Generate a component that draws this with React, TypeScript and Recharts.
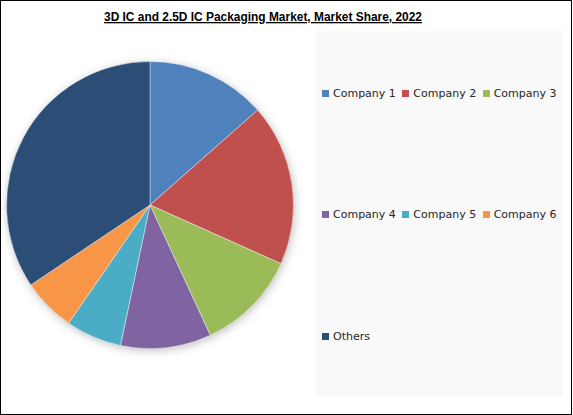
import React from 'react';
import { PieChart, Pie, Cell, Legend } from 'recharts';

const companies = ['Company 1', 'Company 2', 'Company 3', 'Company 4', 'Company 5', 'Company 6', 'Others'];
const shares = [13.5, 18.2, 11.4, 10.2, 6.3, 6.0, 34.4];
const colors = ['#4f81bd', '#c0504d', '#9bbb59', '#8064a2', '#4bacc6', '#f79646', '#2c4d75'];
const title = '3D IC and 2.5D IC Packaging Market, Market Share, 2022';

const data = companies.map((name, i) => ({ name, value: shares[i] }));
const shadowData = [{ name: 'shadow', value: 1 }];

const legendRows = [companies.slice(0, 3), companies.slice(3, 6), companies.slice(6)];

const LegendContent = () => (
  <div style={{ width: 247, height: 365, background: '#f9f9f9', boxSizing: 'border-box', paddingTop: 55, paddingLeft: 6 }}>
    {legendRows.map((row, r) => (
      <div key={r} style={{ display: 'flex', height: 14, marginBottom: r === 0 ? 107 : 108 }}>
        {row.map((name) => {
          const idx = companies.indexOf(name);
          return (
            <div key={name} style={{ width: 83, display: 'flex', alignItems: 'center', height: 14 }}>
              <span style={{ display: 'inline-block', width: 7, height: 7, background: colors[idx], marginRight: 4 }} />
              <span style={{ fontFamily: 'DejaVu Sans, Verdana, sans-serif', fontSize: 11, color: '#262626', whiteSpace: 'nowrap' }}>{name}</span>
            </div>
          );
        })}
      </div>
    ))}
  </div>
);

export default function App() {
  return (
    <div style={{ position: 'absolute', left: 0, top: 0, width: 573, height: 415, background: '#fff', overflow: 'hidden' }}>
      <PieChart width={573} height={415} margin={{ top: 0, right: 0, bottom: 0, left: 0 }}>
        <Pie
          data={shadowData}
          dataKey="value"
          cx={150}
          cy={205}
          outerRadius={143}
          startAngle={90}
          endAngle={-270}
          stroke="none"
          isAnimationActive={false}
          legendType="none"
        >
          <Cell fill="#ffffff" style={{ filter: 'drop-shadow(1px 2px 5px rgba(0,0,0,0.28))' }} />
        </Pie>
        <Pie
          data={data}
          dataKey="value"
          nameKey="name"
          cx={150}
          cy={205}
          outerRadius={143.5}
          startAngle={90}
          endAngle={-270}
          stroke="#ffffff"
          strokeWidth={0.4}
          isAnimationActive={false}
        >
          {data.map((d, i) => (
            <Cell key={d.name} fill={colors[i]} />
          ))}
        </Pie>
        <Legend
          content={<LegendContent />}
          wrapperStyle={{ position: 'absolute', left: 316, top: 31, width: 247, height: 365 }}
        />
      </PieChart>
      <svg width={573} height={40} style={{ position: 'absolute', left: 0, top: 0 }}>
        <text
          x={263}
          y={21}
          textAnchor="middle"
          textLength={318}
          lengthAdjust="spacingAndGlyphs"
          style={{ fontFamily: 'Liberation Sans, Arial, sans-serif', fontWeight: 700, fontSize: 13, textDecoration: 'underline' }}
          fill="#000"
        >
          {title}
        </text>
      </svg>
      <div style={{ position: 'absolute', left: 0, top: 0, width: 572, height: 415, border: '1px solid #000', boxSizing: 'border-box', pointerEvents: 'none' }} />
    </div>
  );
}
